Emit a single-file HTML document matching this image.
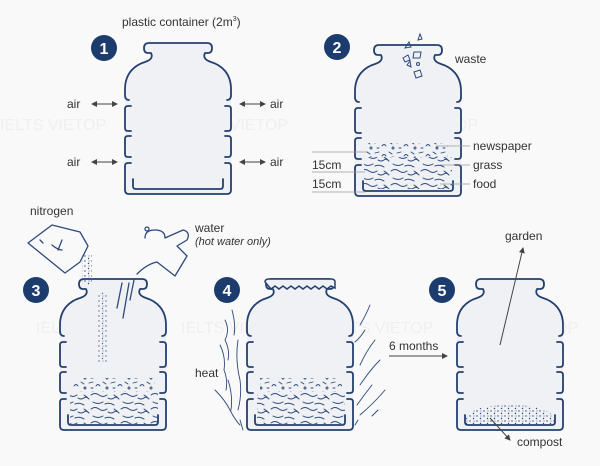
<!DOCTYPE html>
<html><head><meta charset="utf-8"><style>
html,body{margin:0;padding:0;background:#f9f9fa;}
svg{display:block;font-family:"Liberation Sans",sans-serif;}
</style></head><body>
<svg width="600" height="466" viewBox="0 0 600 466" xmlns="http://www.w3.org/2000/svg">
<defs>
<g id="jar">
<path d="M19,5 Q19,0 24,0 L82,0 Q87,0 87,5 Q87,10 83,10 L80,10 C78,14 80,17 86,19 C96,22 106,30 106,46 L106,151 L0,151 L0,46 C0,30 10,22 20,19 C26,17 28,14 26,10 L23,10 Q19,10 19,5 Z" fill="#eff1f4"/>
<g fill="none" stroke="#24406f" stroke-width="1.8" stroke-linecap="round" stroke-linejoin="round">
<path d="M4,57 Q0,57 0,52 L0,46 C0,30 10,22 20,19 C26,17 28,14 26,10 L23,10 Q19,10 19,5 Q19,0 24,0 L82,0 Q87,0 87,5 Q87,10 83,10 L80,10 C78,14 80,17 86,19 C96,22 106,30 106,46 L106,52 Q106,57 102,57"/>
<path d="M6,63 L3,63 Q0,63 0,66 L0,85 Q0,88 3,88 L6,88 M100,63 L103,63 Q106,63 106,66 L106,85 Q106,88 103,88 L100,88"/>
<path d="M6,93 L3,93 Q0,93 0,96 L0,111 Q0,114 3,114 L6,114 M100,93 L103,93 Q106,93 106,96 L106,111 Q106,114 103,114 L100,114"/>
<path d="M6,120 L3,120 Q0,120 0,123 L0,147 Q0,151 4,151 L102,151 Q106,151 106,147 L106,123 Q106,120 103,120 L100,120"/>
<path d="M8,136 L8,143 Q8,146 11,146 L95,146 Q98,146 98,143 L98,136"/>
</g>
</g>
<pattern id="scrib" width="30" height="14" patternUnits="userSpaceOnUse">
<g fill="none" stroke="#2d4a7a" stroke-width="1" stroke-linecap="round">
<path d="M1,3 q4,-3 8,0 t8,0"/><path d="M18,6 q3,2 6,0 q2,-2 5,1"/><path d="M3,10 q5,3 10,0"/><path d="M15,12 q4,-2 9,1"/><path d="M24,3 l3,2"/>
</g>
</pattern>
<pattern id="news" width="22" height="10" patternUnits="userSpaceOnUse">
<g fill="none" stroke="#2d4a7a" stroke-width="0.9" stroke-linecap="round">
<path d="M1,3 l4,-1"/><path d="M8,6 q2,-3 4,0"/><path d="M15,2 l3,2"/><path d="M3,8 l2,0"/><circle cx="19" cy="8" r="1"/>
</g>
</pattern>
<pattern id="dots" width="7" height="5" patternUnits="userSpaceOnUse">
<g fill="#2d4a7a"><circle cx="1" cy="1" r="0.7"/><circle cx="4.5" cy="3.5" r="0.7"/><circle cx="5" cy="1" r="0.5"/></g>
</pattern>
<marker id="ah" markerWidth="6" markerHeight="6" refX="5" refY="3" orient="auto"><path d="M0,0 L6,3 L0,6 Z" fill="#444"/></marker>
<marker id="ahs" markerWidth="6" markerHeight="6" refX="1" refY="3" orient="auto"><path d="M6,0 L0,3 L6,6 Z" fill="#444"/></marker>
</defs>

<g fill="#efeff1" font-size="16">
<text x="0" y="130">IELTS VIETOP</text><text x="182" y="130">IELTS VIETOP</text><text x="372" y="130">IELTS VIETOP</text>
<text x="36" y="333">IELTS VIETOP</text><text x="181" y="333">IELTS VIETOP</text><text x="327" y="333">IELTS VIETOP</text><text x="472" y="333">IELTS VIETOP</text>
</g>

<use href="#jar" x="125" y="43"/>
<use href="#jar" x="355" y="45"/>
<use href="#jar" x="60" y="279"/>
<use href="#jar" x="247" y="279"/>
<use href="#jar" x="457" y="279"/>

<g fill="#1d3c6e"><circle cx="104" cy="48" r="13"/><circle cx="337" cy="47" r="13"/><circle cx="36" cy="290" r="13"/><circle cx="227" cy="290" r="13"/><circle cx="442" cy="290" r="13"/></g>
<g fill="#fff" font-size="16" font-weight="bold" text-anchor="middle">
<text x="104" y="54">1</text><text x="337" y="53">2</text><text x="36" y="296">3</text><text x="227" y="296">4</text><text x="442" y="296">5</text>
</g>

<g fill="#333" font-size="12">
<text x="122" y="26">plastic container  (2m<tspan font-size="7" dy="-5">3</tspan><tspan dy="5">)</tspan></text>
<text x="67" y="108">air</text><text x="67" y="166">air</text>
<text x="270" y="108">air</text><text x="270" y="166">air</text>
<text x="455" y="63">waste</text>
<text x="473" y="150">newspaper</text><text x="473" y="169">grass</text><text x="473" y="188">food</text>
<text x="312" y="169">15cm</text><text x="312" y="188">15cm</text>
<text x="30" y="215">nitrogen</text>
<text x="195" y="232">water</text>
<text x="195" y="245" font-style="italic" font-size="11">(hot water only)</text>
<text x="195" y="377">heat</text>
<text x="389" y="350">6 months</text>
<text x="505" y="240">garden</text>
<text x="517" y="446">compost</text>
</g>

<g stroke="#444" stroke-width="1" fill="none">
<line x1="92" y1="104" x2="117" y2="104" marker-end="url(#ah)" marker-start="url(#ahs)"/>
<line x1="92" y1="162" x2="117" y2="162" marker-end="url(#ah)" marker-start="url(#ahs)"/>
<line x1="240" y1="104" x2="265" y2="104" marker-end="url(#ah)" marker-start="url(#ahs)"/>
<line x1="240" y1="162" x2="265" y2="162" marker-end="url(#ah)" marker-start="url(#ahs)"/>
<line x1="389" y1="356" x2="447" y2="356" marker-end="url(#ah)"/>
<line x1="500" y1="345" x2="523" y2="248" marker-end="url(#ah)"/>
<line x1="490" y1="418" x2="510" y2="440" marker-end="url(#ah)"/>
</g>
<g stroke="#999" stroke-width="0.8">
<line x1="436" y1="146" x2="470" y2="146"/><line x1="440" y1="165" x2="470" y2="165"/><line x1="440" y1="184" x2="470" y2="184"/>
<line x1="312" y1="152" x2="368" y2="152"/><line x1="312" y1="172" x2="365" y2="172"/><line x1="312" y1="192" x2="365" y2="192"/>
</g>

<rect x="366" y="143" width="82" height="14" fill="url(#news)"/>
<rect x="364" y="157" width="88" height="32" fill="url(#scrib)"/>
<g fill="none" stroke="#2d4a7a" stroke-width="1">
<path d="M405,48 l4,-6 l2,5 z"/><path d="M418,40 l2,-6 l2,5 z"/><path d="M403,58 l5,-3 l2,5 l-5,2 z"/><path d="M414,52 l7,0 l-1,6 l-7,0 z"/><path d="M407,65 l3,-4 l1,6 z"/><circle cx="418" cy="64" r="1.5"/><path d="M414,72 l6,-2 l2,6 l-6,2 z"/>
</g>
<rect x="73" y="378" width="82" height="14" fill="url(#news)"/>
<rect x="70" y="392" width="88" height="32" fill="url(#scrib)"/>
<rect x="98" y="292" width="10" height="70" fill="url(#dots)" opacity="0.8"/>
<g fill="none" stroke="#2d4a7a" stroke-width="1.3" stroke-linecap="round" stroke-linejoin="round">
<path d="M28,243 L52,225 L80,232 L88,246 L80,262 L65,273 Z"/><path d="M40,240 l3,3 M58,250 l4,-10 M52,245 q6,5 10,5"/>
<path d="M145,238 q0,-8 10,-8 q10,0 10,8 l18,-8 q8,2 4,10 l-10,6 l10,10 l-12,20 l-18,-14 q-10,2 -20,12"/><circle cx="147" cy="229" r="2"/>
<path d="M117,308 l5,-25 M123,318 l6,-35 M130,300 l4,-20"/>
</g>
<rect x="82" y="255" width="10" height="30" fill="url(#dots)"/>
<rect x="260" y="378" width="82" height="14" fill="url(#news)"/>
<rect x="257" y="392" width="88" height="32" fill="url(#scrib)"/>
<path d="M265,282 Q265,279 269,279 L331,279 Q335,279 335,282 L335,288 l-4,-2 l-4,3 l-4,-3 l-4,3 l-4,-3 l-4,3 l-4,-3 l-4,3 l-4,-3 l-4,3 l-4,-3 l-4,3 l-4,-3 l-4,3 l-4,-3 l-4,3 Z" fill="#eff1f4" stroke="#24406f" stroke-width="1.5"/>
<g fill="none" stroke="#2d4a7a" stroke-width="0.9" stroke-linecap="round">
<path d="M225,320 q5,10 0,20 q5,10 3,20 M232,310 q4,15 2,25 M220,345 q6,12 4,25 q4,10 2,20 M238,340 q-3,20 2,40 q2,15 -2,30 M215,390 q10,10 15,20 q5,10 10,15 M228,380 q5,15 3,30 M240,420 l3,10"/>
<path d="M370,305 q-4,10 -10,20 M365,330 q-5,8 -10,12 M375,340 q-8,10 -15,25 M380,360 q-10,10 -20,25 M372,385 q-8,10 -15,20 M385,390 q-10,12 -25,25 M358,420 l-3,5 M378,410 l-6,6"/>
</g>
<path d="M466,425 L466,419 Q470,405 510,405 Q548,405 555,419 L555,425 Z" fill="url(#dots)"/>
</svg>
</body></html>
